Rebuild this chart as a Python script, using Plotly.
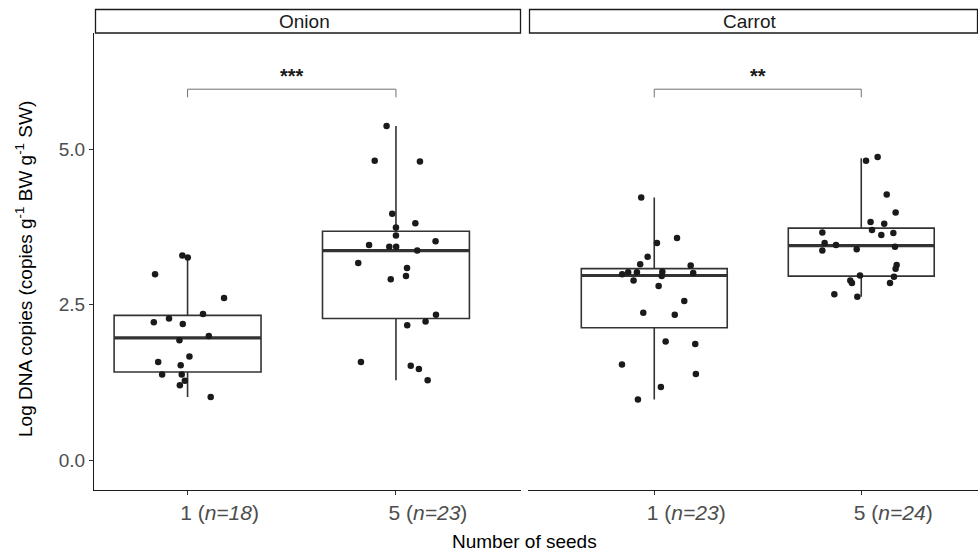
import plotly.graph_objects as go

# ---------------- data ----------------
crops = ["Onion", "Carrot"]
seed_labels = {"Onion": ["1 (<i>n=18</i>)", "5 (<i>n=23</i>)"],
               "Carrot": ["1 (<i>n=23</i>)", "5 (<i>n=24</i>)"]}

# box statistics: [q1, median, q3, lower whisker, upper whisker]
onion_1_stats = [1.42, 1.97, 2.33, 1.02, 3.27]
onion_5_stats = [2.28, 3.37, 3.68, 1.29, 5.37]
carrot_1_stats = [2.13, 2.97, 3.08, 0.98, 4.22]
carrot_5_stats = [2.96, 3.45, 3.73, 2.63, 4.85]

# jittered observations: values and horizontal jitter offsets
onion_1_y = [3.29, 3.26, 2.99, 2.61, 2.35, 2.22, 2.28, 2.19, 1.93, 2.00, 1.67, 1.58,
             1.53, 1.38, 1.38, 1.28, 1.21, 1.02]
onion_1_jit = [-0.025, 0.001, -0.156, 0.175, 0.074, -0.162, -0.089, -0.023, -0.039, 0.102,
               0.009, -0.141, -0.033, -0.122, -0.028, -0.013, -0.037, 0.111]
onion_5_y = [5.37, 4.81, 4.80, 3.96, 3.81, 3.74, 3.61, 3.52, 3.46, 3.43, 3.43, 3.37, 3.17,
             3.09, 2.96, 2.91, 2.34, 2.23, 2.17, 1.58, 1.52, 1.47, 1.29]
onion_5_jit = [-0.045, -0.102, 0.115, -0.018, 0.093, 0.0, 0.0, 0.190, -0.129, -0.032, 0.001,
               0.102, -0.181, 0.053, 0.048, -0.025, 0.192, 0.142, 0.054, -0.168, 0.071,
               0.110, 0.152]
carrot_1_y = [4.22, 3.57, 3.49, 3.27, 3.15, 3.13, 2.99, 3.02, 3.02, 3.03, 2.96, 3.01, 2.89,
              2.80, 2.56, 2.37, 2.34, 1.91, 1.87, 1.54, 1.39, 1.18, 0.98]
carrot_1_jit = [-0.063, 0.110, 0.013, -0.032, -0.068, 0.176, -0.155, -0.126, -0.084, 0.039,
                0.036, 0.188, -0.100, 0.021, 0.145, -0.053, 0.099, 0.055, 0.198, -0.156,
                0.201, 0.032, -0.079]
carrot_5_y = [4.87, 4.81, 4.27, 3.98, 3.83, 3.80, 3.70, 3.62, 3.65, 3.66, 3.49, 3.46, 3.43,
              3.37, 3.39, 3.14, 3.08, 2.95, 2.97, 2.89, 2.85, 2.85, 2.67, 2.63]
carrot_5_jit = [0.079, 0.023, 0.123, 0.166, 0.045, 0.111, 0.052, 0.097, 0.155, -0.188,
                -0.177, -0.122, 0.163, -0.188, -0.022, 0.171, 0.166, 0.158, -0.006, -0.053,
                -0.045, 0.139, -0.130, -0.019]

# significance brackets
signif_labels = {"Onion": "***", "Carrot": "**"}
bracket_y = 5.96
bracket_tick_y = 5.83
signif_y = 6.17

y_range = [-0.473, 6.862]
y_ticks = [0.0, 2.5, 5.0]
y_ticktext = ["0.0", "2.5", "5.0"]

# ---------------- styling ----------------
FONT = "Liberation Sans, Arial, sans-serif"
W, H = 978, 554
BOX_W = 0.705
BOX_LINE = "#333333"
PT = "#1a1a1a"

panels = {
    "Onion": dict(xa="x", ya="y", xdom=[94 / W, 521 / W], xr=[0.551, 2.60],
                  groups=[(onion_1_stats, onion_1_y, onion_1_jit),
                          (onion_5_stats, onion_5_y, onion_5_jit)]),
    "Carrot": dict(xa="x2", ya="y2", xdom=[528 / W, 1.0], xr=[0.390, 2.564],
                   groups=[(carrot_1_stats, carrot_1_y, carrot_1_jit),
                           (carrot_5_stats, carrot_5_y, carrot_5_jit)]),
}
ydom = [(H - 490) / H, (H - 33) / H]

fig = go.Figure()
shapes = []
annotations = []

for crop in crops:
    p = panels[crop]
    for i, (st, ys, js) in enumerate(p["groups"]):
        xc = i + 1
        q1, med, q3, lo, hi = st
        fig.add_trace(go.Box(
            x=[xc], q1=[q1], median=[med], q3=[q3], lowerfence=[lo], upperfence=[hi],
            width=BOX_W, whiskerwidth=0, fillcolor="white",
            line=dict(color=BOX_LINE, width=1.6), boxpoints=False,
            xaxis=p["xa"], yaxis=p["ya"], showlegend=False, hoverinfo="skip"))
        # thicker median line (ggplot style)
        fig.add_trace(go.Scatter(
            x=[xc - BOX_W / 2, xc + BOX_W / 2], y=[med, med], mode="lines",
            line=dict(color=BOX_LINE, width=3.2), xaxis=p["xa"], yaxis=p["ya"],
            showlegend=False, hoverinfo="skip"))
        fig.add_trace(go.Scatter(
            x=[xc + j for j in js], y=ys, mode="markers",
            marker=dict(color=PT, size=6.5, line=dict(width=0)),
            xaxis=p["xa"], yaxis=p["ya"], showlegend=False, hoverinfo="skip"))

    # significance bracket
    xref, yref = p["xa"], p["ya"]
    shapes.append(dict(type="line", xref=xref, yref=yref, x0=1, x1=2, y0=bracket_y, y1=bracket_y,
                       line=dict(color="#707070", width=1)))
    for xb in (1, 2):
        shapes.append(dict(type="line", xref=xref, yref=yref, x0=xb, x1=xb,
                           y0=bracket_tick_y, y1=bracket_y, line=dict(color="#707070", width=1)))
    annotations.append(dict(xref=xref, yref=yref, x=1.5, y=signif_y, text="<b>" + signif_labels[crop] + "</b>",
                            showarrow=False, font=dict(family=FONT, size=20, color="#1a1a1a")))

    # strip
    x0, x1 = p["xdom"]
    shapes.append(dict(type="rect", xref="paper", yref="paper", x0=x0 + 1.5 / W, x1=x1 - 0.5 / W,
                       y0=(H - 33) / H, y1=(H - 9.5) / H,
                       line=dict(color="#1a1a1a", width=1.3), fillcolor="white"))
    annotations.append(dict(xref="paper", yref="paper", x=(x0 + x1) / 2 - 3 / W, y=(H - 21.5) / H,
                            text=crop, showarrow=False, xanchor="center", yanchor="middle",
                            font=dict(family=FONT, size=19, color="#1a1a1a")))

# axis titles
annotations.append(dict(xref="paper", yref="paper", x=24 / W, y=(H - 269) / H,
                        text="Log DNA copies (copies g<sup>-1</sup> BW g<sup>-1</sup> SW)",
                        textangle=-90, showarrow=False, xanchor="center", yanchor="middle",
                        font=dict(family=FONT, size=19, color="black")))
annotations.append(dict(xref="paper", yref="paper", x=524 / W, y=(H - 541) / H,
                        text="Number of seeds", showarrow=False, xanchor="center", yanchor="middle",
                        font=dict(family=FONT, size=19, color="black")))

xcommon = dict(showgrid=False, zeroline=False, showline=True, linecolor="#1a1a1a", linewidth=1.2,
               ticks="outside", ticklen=4, tickcolor="#333333", tickwidth=1,
               tickvals=[1, 2], tickfont=dict(family=FONT, size=21, color="#4D4D4D"),
               ticklabelshift=32, fixedrange=True)

fig.update_layout(
    width=W, height=H, margin=dict(l=0, r=0, t=0, b=0),
    paper_bgcolor="white", plot_bgcolor="white",
    xaxis=dict(domain=panels["Onion"]["xdom"], range=panels["Onion"]["xr"], anchor="y",
               ticktext=seed_labels["Onion"], **xcommon),
    xaxis2=dict(domain=panels["Carrot"]["xdom"], range=panels["Carrot"]["xr"], anchor="y2",
                ticktext=seed_labels["Carrot"], **xcommon),
    yaxis=dict(domain=ydom, range=y_range, anchor="x", showgrid=False, zeroline=False,
               showline=True, linecolor="#1a1a1a", linewidth=1.2, ticks="outside", ticklen=4,
               tickcolor="#333333", tickvals=y_ticks, ticktext=y_ticktext,
               tickfont=dict(family=FONT, size=19, color="#4D4D4D")),
    yaxis2=dict(domain=ydom, range=y_range, anchor="x2", showgrid=False, zeroline=False,
                showline=False, showticklabels=False, ticks=""),
    shapes=shapes, annotations=annotations,
)

fig.write_html("out.html", config={"displayModeBar": False},
               post_script="document.body.style.margin='0';document.body.style.overflow='hidden';")
